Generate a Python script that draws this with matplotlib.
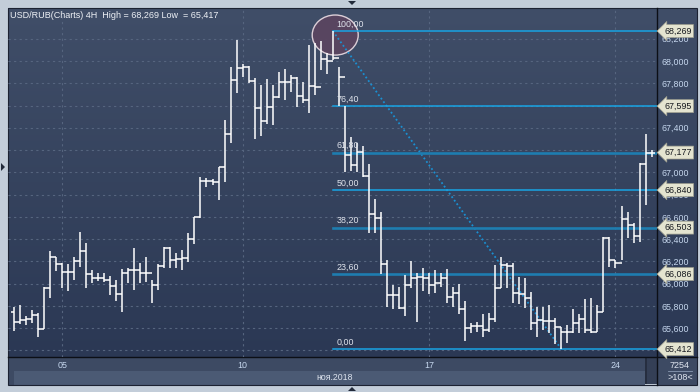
import matplotlib
matplotlib.use("Agg")
import numpy as np
import matplotlib.pyplot as plt
from matplotlib.patches import Ellipse, Polygon, Rectangle
from matplotlib import transforms

plt.rcParams['font.family'] = ['Liberation Sans', 'DejaVu Sans']

# 4H bars, USD/RUB
high = [65793, 65809, 65710, 65764, 65739, 65967, 66293, 66242, 66183, 66176,
        66237, 66464, 66368, 66122, 66098, 66098, 66071, 66033, 66131, 66138,
        66317, 66188, 66237, 66033, 66176, 66332, 66332, 66275, 66302, 66455,
        66601, 66960, 66949, 66937, 67050, 67469, 67943, 68188, 67972, 67954,
        67844, 67784, 67835, 67784, 67904, 67925, 67874, 67859, 67814, 68143,
        68164, 68182, 68069, 68269, 67949, 67595, 67320, 67260, 67236, 67075,
        66758, 66646, 66212, 65988, 65972, 66078, 66204, 66093, 66138, 66093,
        66122, 66098, 66129, 65972, 65994, 65844, 65649, 65658, 65727, 65734,
        66167, 66242, 66188, 66188, 66057, 66048, 65925, 65791, 65791, 65809,
        65691, 65611, 65629, 65770, 65727, 65860, 65871, 65809, 66416, 66416,
        66212, 66698, 66646, 66542, 67081, 67344, 67200]
low = [65578, 65638, 65629, 65644, 65518, 65590, 65874, 66116, 65958, 65937,
       66033, 66152, 65958, 66003, 66024, 66017, 65898, 65847, 65748, 66003,
       65943, 66006, 66015, 65826, 65943, 66140, 66138, 66140, 66122, 66197,
       66356, 66587, 66871, 66886, 66751, 66915, 67260, 67715, 67853, 67799,
       67296, 67326, 67434, 67425, 67665, 67649, 67724, 67584, 67625, 67535,
       67694, 67919, 67883, 68009, 67595, 67006, 67015, 67006, 66960, 66458,
       66452, 66087, 65793, 65770, 65770, 65712, 65958, 65658, 65937, 65907,
       65919, 65972, 65829, 65793, 65727, 65488, 65554, 65568, 65518, 65568,
       65658, 65958, 65958, 65826, 65817, 65781, 65584, 65523, 65584, 65554,
       65458, 65417, 65465, 65557, 65557, 65554, 65554, 65566, 65748, 66152,
       66138, 66212, 66407, 66363, 66377, 66707, 67135]
close = [65656, 65674, 65680, 65719, 65590, 65960, 66242, 66176, 66102, 66102,
         66204, 66293, 66084, 66054, 66048, 66033, 65979, 65907, 66093, 66122,
         66122, 66095, 66095, 65988, 66158, 66320, 66212, 66219, 66228, 66398,
         66595, 66922, 66925, 66915, 67045, 67341, 67829, 67939, 67948, 67822,
         67575, 67463, 67584, 67674, 67814, 67814, 67844, 67685, 67649, 67775,
         67769, 68015, 68002, 68024, 67859, 67156, 67066, 67185, 66966, 66626,
         66587, 66174, 65898, 65898, 65779, 65988, 66048, 66062, 66048, 65988,
         66008, 66048, 65883, 65919, 65770, 65599, 65619, 65619, 65584, 65680,
         65958, 66167, 66158, 65919, 65907, 65868, 65644, 65674, 65667, 65667,
         65608, 65568, 65568, 65644, 65680, 65584, 65568, 65748, 66407, 66212,
         66188, 66578, 66527, 66428, 67075, 67171, 67177]
first_open = 65746

day_ticks = [8, 38, 69, 100]
day_labels = ['05', '10', '17', '24']
month_label = 'ноя.2018'
price_ticks = list(range(65400, 68201, 200))

fib_levels = [100.0, 76.4, 61.8, 50.0, 38.2, 23.6, 0.0]
fib_dark = [61.8, 38.2, 23.6]
fib_high, fib_low = 68269.0, 65411.6
swing_high_bar, swing_low_bar = 53, 91

title = 'USD/RUB(Charts) 4H  High = 68,269 Low  = 65,417'
bars_count = '7254'
bars_shown = '>108<'

opens = [first_open] + close[:-1]
n = len(close)
x = np.arange(n)
span = fib_high - fib_low
fib_prices = [fib_low + span * lv / 100 for lv in fib_levels]

W, H = 700, 392
fig = plt.figure(figsize=(W / 100, H / 100), dpi=100)
fig.patch.set_facecolor('#c3cdd9')

# frame / decorations in pixel space
deco = fig.add_axes([0, 0, 1, 1])
deco.set_xlim(0, W)
deco.set_ylim(H, 0)
deco.axis('off')
grad = np.linspace(0, 1, 256)[:, None]
top_c = np.array([64, 78, 104]) / 255
bot_c = np.array([43, 56, 84]) / 255
img = top_c[None, None, :] * (1 - grad[..., None]) + bot_c[None, None, :] * grad[..., None]
deco.imshow(img, extent=(8, 697, 357, 8), aspect='auto', zorder=0)
deco.add_patch(Rectangle((8, 357), 689, 14, fc='#3d4a63', ec='none', zorder=1))
deco.add_patch(Rectangle((14, 371), 631, 14, fc='#4b5a74', ec='none', zorder=1))
deco.add_patch(Rectangle((8, 371), 6, 14, fc='#3d4a63', ec='none', zorder=1))
deco.add_patch(Rectangle((645, 357), 12, 27, fc='#343f56', ec='none', zorder=1))
deco.add_patch(Rectangle((645, 357), 2, 27, fc='#262e40', ec='none', zorder=1))
deco.add_patch(Rectangle((657, 357), 40, 28, fc='#3d4a63', ec='none', zorder=1))
deco.add_patch(Rectangle((7.5, 7.5), 689.5, 377.5, fc='none', ec='#1c2232', lw=0.8, zorder=2))
deco.plot([657, 657], [8, 385], color='#0c0f16', lw=1.0, zorder=2)
deco.plot([8, 697], [357, 357], color='#0c0f16', lw=1.0, zorder=2)
deco.plot([668, 692], [371, 371], color='#8a9ab2', lw=0.6, zorder=2)
deco.text(680, 365, bars_count, color='#e0e6f0', fontsize=6.5, ha='center', va='center', zorder=3)
deco.text(680, 378, bars_shown, color='#e0e6f0', fontsize=6.5, ha='center', va='center', zorder=3)
deco.text(335, 377, month_label, color='#dde3ee', fontsize=6.3, ha='center', va='center', zorder=3)
for tri in ([(348, 1), (356, 1), (352, 5)], [(1, 163), (1, 171), (5, 167)],
            [(348, 391), (356, 391), (352, 387)]):
    deco.add_patch(Polygon(tri, closed=True, fc='#222a3a', ec='none', zorder=3))
deco.text(10, 15.5, title, color='#eef1f6', fontsize=6.5, ha='left', va='center', zorder=5)

# main chart
ax = fig.add_axes([8 / W, 1 - 357 / H, 649 / W, 349 / H])
ax.patch.set_alpha(0)
ax.set_xlim(-1.0, 106.9)
ax.set_ylim(65341, 68476)
for s in ax.spines.values():
    s.set_visible(False)

# price labels fully covered by a level tag are not shown on the chart
tick_text = [('' if min(abs(v - p) for p in fib_prices) < 30 else f'{v:,}') for v in price_ticks]
ax.set_xticks(day_ticks, day_labels)
ax.set_yticks(price_ticks, tick_text)
ax.yaxis.tick_right()
ax.tick_params(axis='both', length=0, labelsize=6.4, colors='#c6d7ee')
ax.tick_params(axis='y', pad=3.5)
ax.tick_params(axis='x', pad=3.2)
ax.grid(True, color='#56657f', lw=0.8, ls=(0, (2, 3)))
ax.set_axisbelow(True)

# fibonacci retracement
circ = Ellipse((swing_high_bar + 0.4, fib_high - 36), width=7.65, height=360,
               fc='#5a4560', ec='#e4d6de', lw=1.0, alpha=0.95, zorder=2)
ax.add_patch(circ)
ax.plot([swing_high_bar, swing_low_bar], [fib_high, fib_low], color='#1a90d2',
        lw=1.3, ls=(0, (1, 1.4)), zorder=3)
for lv, price in zip(fib_levels, fib_prices):
    dark = lv in fib_dark
    ax.plot([swing_high_bar, 106.9], [price, price],
            color='#1e7db0' if dark else '#18a4e4', lw=1.9 if dark else 1.1, zorder=3)
    ax.annotate(f'{lv:.2f}'.replace('.', ','), (swing_high_bar, price),
                xytext=(2.5, 1.8), textcoords='offset points', color='#dfe3ec',
                fontsize=6.4, ha='left', va='bottom', zorder=6)

# HLC bars
ax.vlines(x, low, high, color='white', lw=1.1, zorder=4)
ax.hlines(opens, x - 0.5, x, color='white', lw=1.1, zorder=4)
ax.hlines(close, x, x + 0.5, color='white', lw=1.1, zorder=4)

# price tags on the right axis
tr = transforms.blended_transform_factory(ax.transAxes, ax.transData)
for price in fib_prices:
    ax.text(1.011, price, f'{round(price):,}', transform=tr, color='#15181e', fontsize=6.4,
            ha='left', va='center', zorder=8, clip_on=False,
            bbox=dict(boxstyle='larrow,pad=0.22', fc='#e4e4d0', ec='#a0a090', lw=0.5))

fig.savefig('out.png', dpi=100)
